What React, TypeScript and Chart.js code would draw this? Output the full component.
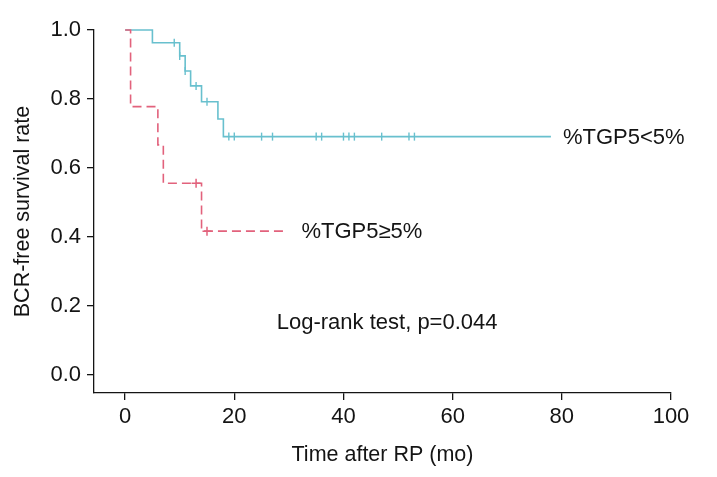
import React, { useEffect, useRef } from "react";
import { Chart, registerables } from "chart.js";

Chart.register(...registerables);

// ---- data ----
const LOW_TIMES = [0, 5, 10, 11, 12, 14, 17, 18, 78];
const LOW_SURV = [1, 0.963, 0.925, 0.881, 0.838, 0.792, 0.742, 0.691, 0.691];
const LOW_CENSOR = [9, 10, 11, 13, 15, 19, 20, 25, 27, 35, 36, 40, 41, 42, 47, 52, 53];

const HIGH_TIMES = [0, 1, 6, 7, 14, 29];
const HIGH_SURV = [1, 0.778, 0.667, 0.556, 0.417, 0.417];
const HIGH_CENSOR = [13, 15];

const X_TICKS = [0, 20, 40, 60, 80, 100];
const Y_TICKS = [0, 0.2, 0.4, 0.6, 0.8, 1.0];

const LOW_LABEL = "%TGP5<5%";
const HIGH_LABEL = "%TGP5\u22655%";
const TEST_LABEL = "Log-rank test, p=0.044";
const TEST_POS = [48, 0.15];
const X_TITLE = "Time after RP (mo)";
const Y_TITLE = "BCR-free survival rate";

const X_RANGE = [-5.7, 100];
const Y_RANGE = [-0.052, 1.0];

// ---- styles ----
const FAMILY = '"Liberation Sans", Arial, Helvetica, sans-serif';
const BLUE = "rgb(104,192,206)";
const RED = "rgb(226,98,124)";
const INK = "#141414";

function levelAt(times: number[], surv: number[], t: number): number {
  let v = surv[0];
  for (let i = 0; i < times.length; i++) {
    if (times[i] <= t) v = surv[i];
  }
  return v;
}

const labelPlugin = {
  id: "kmLabels",
  afterDatasetsDraw(chart: any) {
    const { ctx, scales } = chart;
    const xs = scales.x;
    const ys = scales.y;
    ctx.save();
    ctx.fillStyle = INK;
    ctx.font = `22px ${FAMILY}`;
    ctx.textBaseline = "middle";
    ctx.textAlign = "left";
    const lb = LOW_TIMES.length - 1;
    ctx.fillText(
      LOW_LABEL,
      xs.getPixelForValue(LOW_TIMES[lb]) + 12,
      ys.getPixelForValue(LOW_SURV[lb]) + 1.5
    );
    const hb = HIGH_TIMES.length - 1;
    ctx.fillText(
      HIGH_LABEL,
      xs.getPixelForValue(HIGH_TIMES[hb]) + 18,
      ys.getPixelForValue(HIGH_SURV[hb]) + 1
    );
    ctx.textAlign = "center";
    ctx.fillText(TEST_LABEL, xs.getPixelForValue(TEST_POS[0]), ys.getPixelForValue(TEST_POS[1]));
    ctx.restore();
  },
};

export default function App() {
  const ref = useRef<HTMLCanvasElement | null>(null);

  useEffect(() => {
    const canvas = ref.current;
    if (!canvas) return;

    const highLine = HIGH_TIMES.map((t, i) => ({ x: t, y: HIGH_SURV[i] }));
    const lowLine = LOW_TIMES.map((t, i) => ({ x: t, y: LOW_SURV[i] }));
    const highCens = HIGH_CENSOR.map((t) => ({ x: t, y: levelAt(HIGH_TIMES, HIGH_SURV, t) }));
    const lowCens = LOW_CENSOR.map((t) => ({ x: t, y: levelAt(LOW_TIMES, LOW_SURV, t) }));

    const tickFont = { family: FAMILY, size: 22 };
    const titleFont = { family: FAMILY, size: 21.5 };

    const chart = new Chart(canvas, {
      type: "line",
      data: {
        datasets: [
          {
            data: highCens,
            showLine: false,
            pointStyle: "cross",
            pointRadius: 4.5,
            pointBorderWidth: 1.5,
            pointBorderColor: RED,
            pointBackgroundColor: RED,
            borderColor: RED,
            clip: false,
          },
          {
            data: highLine,
            stepped: true,
            borderColor: RED,
            borderWidth: 1.6,
            borderDash: [9, 5],
            pointRadius: 0,
            fill: false,
            clip: false,
          },
          {
            data: lowCens,
            showLine: false,
            pointStyle: "line",
            rotation: 90,
            pointRadius: 4,
            pointBorderWidth: 1.4,
            pointBorderColor: BLUE,
            pointBackgroundColor: BLUE,
            borderColor: BLUE,
            clip: false,
          },
          {
            data: lowLine,
            stepped: true,
            borderColor: BLUE,
            borderWidth: 1.6,
            pointRadius: 0,
            fill: false,
            clip: false,
          },
        ] as any,
      },
      options: {
        responsive: false,
        animation: false,
        events: [],
        devicePixelRatio: 1,
        layout: { padding: { left: 0, top: 30, right: 46, bottom: 0 } },
        plugins: {
          legend: { display: false },
          tooltip: { enabled: false },
        },
        scales: {
          x: {
            type: "linear",
            min: X_RANGE[0],
            max: X_RANGE[1],
            afterBuildTicks: (s: any) => {
              s.ticks = X_TICKS.map((v) => ({ value: v }));
            },
            afterFit: (s: any) => {
              s.height = 84;
            },
            grid: {
              display: true,
              drawOnChartArea: false,
              drawTicks: true,
              tickLength: 7,
              color: INK,
              lineWidth: 1.3,
            },
            border: { display: true, color: INK, width: 1.3 },
            ticks: {
              color: INK,
              font: tickFont,
              padding: 4,
              maxRotation: 0,
              autoSkip: false,
              callback: (v: any) => String(v),
            },
            title: {
              display: true,
              text: X_TITLE,
              color: INK,
              font: titleFont,
              padding: { top: 0, bottom: 9 },
            },
          },
          y: {
            type: "linear",
            min: Y_RANGE[0],
            max: Y_RANGE[1],
            afterBuildTicks: (s: any) => {
              s.ticks = Y_TICKS.map((v) => ({ value: v }));
            },
            afterFit: (s: any) => {
              s.width = 94;
            },
            grid: {
              display: true,
              drawOnChartArea: false,
              drawTicks: true,
              tickLength: 7,
              color: INK,
              lineWidth: 1.3,
            },
            border: { display: true, color: INK, width: 1.3 },
            ticks: {
              color: INK,
              font: tickFont,
              padding: 6,
              autoSkip: false,
              callback: (v: any) => Number(v).toFixed(1),
            },
            title: {
              display: true,
              text: Y_TITLE,
              color: INK,
              font: titleFont,
              padding: { top: 10, bottom: 0 },
            },
          },
        },
      } as any,
      plugins: [labelPlugin],
    });

    return () => chart.destroy();
  }, []);

  return (
    <div style={{ position: "fixed", left: 0, top: 0, width: 717, height: 477, background: "#fff" }}>
      <canvas ref={ref} width={717} height={477} style={{ display: "block", width: 717, height: 477 }} />
    </div>
  );
}
